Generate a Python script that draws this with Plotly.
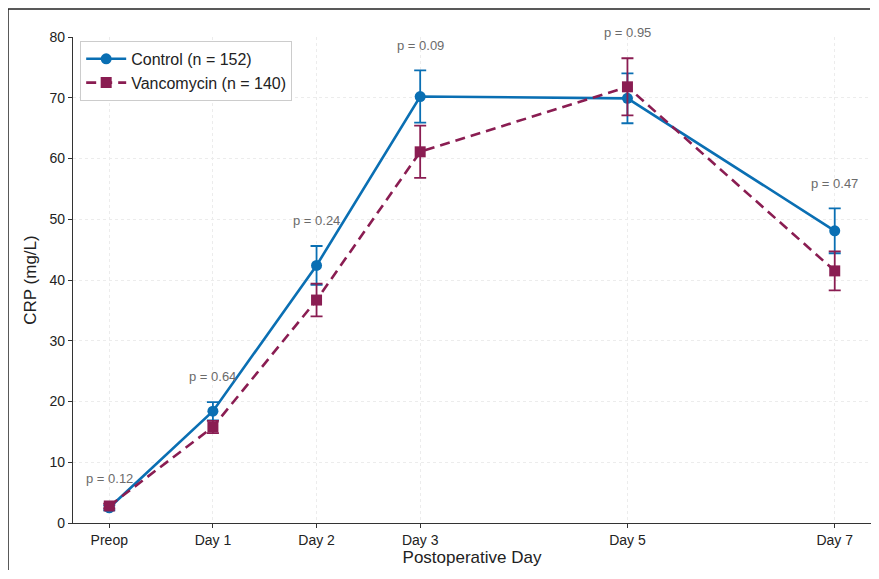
import plotly.graph_objects as go

days = [0, 1, 2, 3, 5, 7]
day_labels = ["Preop", "Day 1", "Day 2", "Day 3", "Day 5", "Day 7"]

control_mean = [2.5, 18.4, 42.4, 70.2, 69.9, 48.1]
control_err = [0.4, 1.5, 3.2, 4.3, 4.1, 3.7]
vanco_mean = [2.8, 15.8, 36.7, 61.1, 71.8, 41.5]
vanco_err = [0.4, 1.0, 2.7, 4.3, 4.7, 3.2]
p_values = ["0.12", "0.64", "0.24", "0.09", "0.95", "0.47"]

control_name = "Control (n = 152)"
vanco_name = "Vancomycin (n = 140)"
c_blue = "#0A6FB3"
c_maroon = "#8A1D52"

fig = go.Figure()
fig.add_trace(go.Scatter(
    x=days, y=control_mean, name=control_name, mode="lines+markers",
    line=dict(color=c_blue, width=2.6),
    marker=dict(symbol="circle", size=11, color=c_blue),
    error_y=dict(type="data", array=control_err, visible=True, color=c_blue, thickness=1.8, width=6),
))
fig.add_trace(go.Scatter(
    x=days, y=vanco_mean, name=vanco_name, mode="lines+markers",
    line=dict(color=c_maroon, width=2.6, dash="10px,6px"),
    marker=dict(symbol="square", size=11, color=c_maroon),
    error_y=dict(type="data", array=vanco_err, visible=True, color=c_maroon, thickness=1.8, width=6),
))

for d, cm, ce, vm, ve, p in zip(days, control_mean, control_err, vanco_mean, vanco_err, p_values):
    top = max(cm + ce, vm + ve)
    fig.add_annotation(x=d, y=top + 2.6, text=f"p = {p}", showarrow=False,
                       yanchor="bottom", xanchor="center",
                       font=dict(size=13, color="#6b6b6b"))

# outer frame (top and left edges visible); page is offset by 8px body margin
pw, ph = 798.0, 486.0
def px_x(px):
    return (px - 73) / pw
def px_y(py):
    return (523 - py) / ph
fig.add_shape(type="line", xref="paper", yref="paper",
              x0=px_x(8), x1=px_x(870), y0=px_y(9), y1=px_y(9),
              line=dict(color="#222222", width=1.5))
fig.add_shape(type="line", xref="paper", yref="paper",
              x0=px_x(8), x1=px_x(8), y0=px_y(9), y1=px_y(570),
              line=dict(color="#222222", width=1.5))

fig.update_layout(
    width=863, height=563,
    margin=dict(l=65, r=0, t=29, b=48, autoexpand=False),
    paper_bgcolor="white", plot_bgcolor="white",
    font=dict(family="Liberation Sans, Arial, sans-serif", color="#222222"),
    showlegend=True,
    legend=dict(x=0.009, y=0.992, xanchor="left", yanchor="top",
                bgcolor="white", bordercolor="#cccccc", borderwidth=1,
                font=dict(size=16, color="#222222"), itemwidth=40,
                tracegroupgap=0),
    xaxis=dict(
        range=[-0.35, 7.35], tickmode="array", tickvals=days, ticktext=day_labels,
        showline=True, linecolor="#333333", linewidth=1.2,
        ticks="outside", ticklen=4, tickcolor="#333333",
        showgrid=True, gridcolor="#ececec", griddash="dot", gridwidth=1,
        zeroline=False, tickfont=dict(size=14), automargin=False,
        title=dict(text="Postoperative Day", font=dict(size=17), standoff=4),
    ),
    yaxis=dict(
        range=[0, 80], tickmode="array", tickvals=[0, 10, 20, 30, 40, 50, 60, 70, 80],
        showline=True, linecolor="#333333", linewidth=1.2,
        ticks="outside", ticklen=4, tickcolor="#333333",
        showgrid=True, gridcolor="#ececec", griddash="dot", gridwidth=1,
        zeroline=False, tickfont=dict(size=14), automargin=False,
        title=dict(text="CRP (mg/L)", font=dict(size=17), standoff=8),
    ),
)

fig.write_html("out.html")
